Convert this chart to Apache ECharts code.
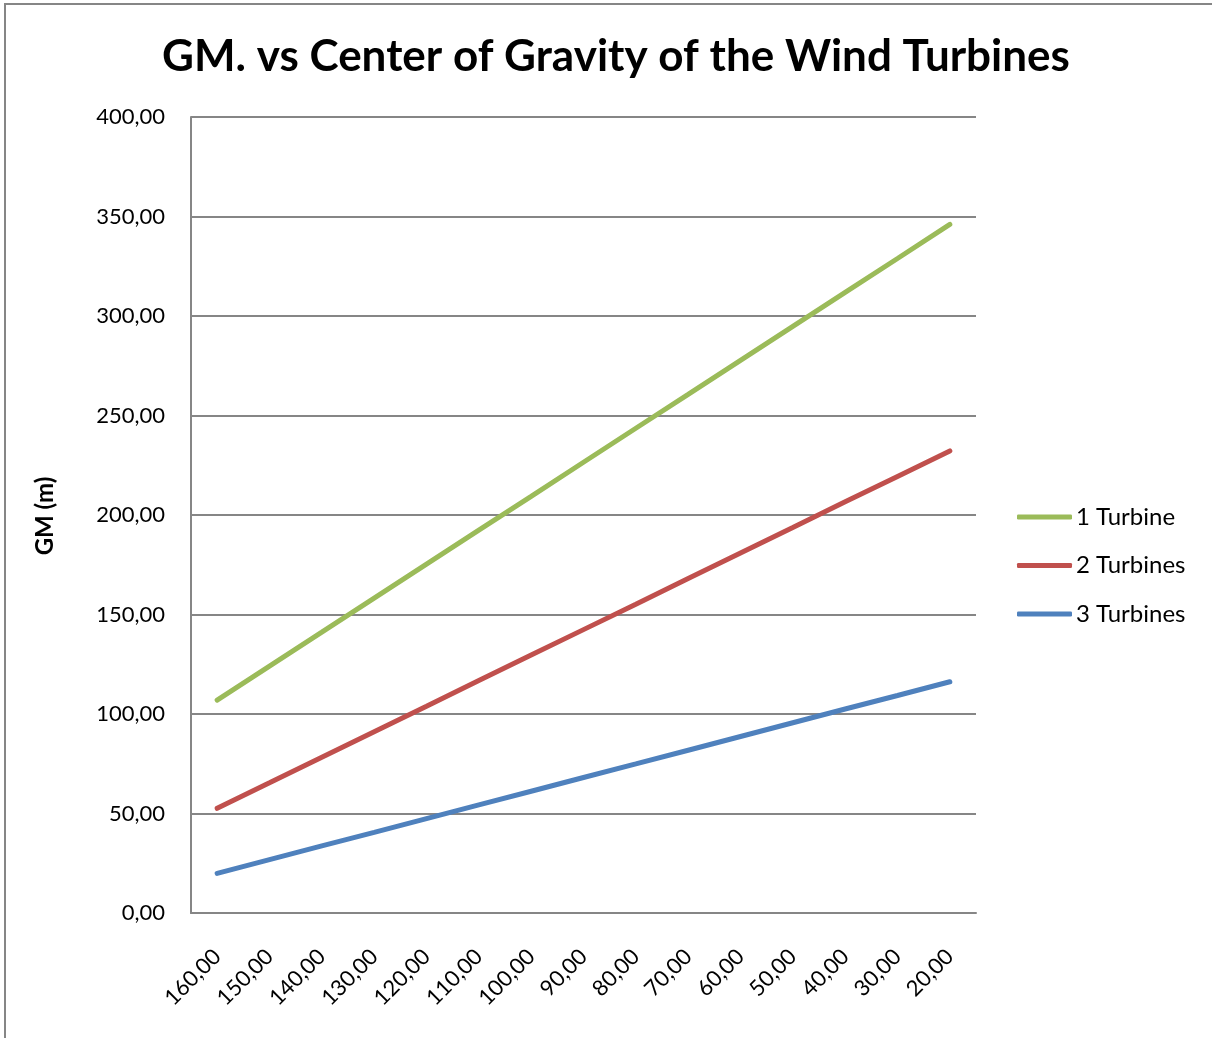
<!DOCTYPE html>
<html>
<head>
<meta charset="utf-8">
<script src="https://cdn.jsdelivr.net/npm/echarts@6/dist/echarts.min.js"></script>
<style>
  html, body { margin: 0; padding: 0; background: #fff; }
  #chart { width: 1212px; height: 1038px; }
</style>
</head>
<body>
<div id="chart"></div>
<script>
// center of gravity (m)
const categories = ['160,00', '150,00', '140,00', '130,00', '120,00', '110,00', '100,00',
  '90,00', '80,00', '70,00', '60,00', '50,00', '40,00', '30,00', '20,00']

// GM values
const oneTurbine = [107.0, 124.1, 141.1, 158.2, 175.3, 192.4, 209.4, 226.5, 243.6, 260.6, 277.7, 294.8, 311.9, 328.9, 346.0]
const twoTurbines = [52.6, 65.4, 78.3, 91.1, 103.9, 116.8, 129.6, 142.4, 155.2, 168.1, 180.9, 193.7, 206.6, 219.4, 232.2]
const threeTurbines = [19.9, 26.8, 33.7, 40.5, 47.4, 54.3, 61.2, 68.1, 74.9, 81.8, 88.7, 95.6, 102.5, 109.3, 116.2]

const seriesNames = ['1 Turbine', '2 Turbines', '3 Turbines']
const colorList = ['#9BBB59', '#C0504D', '#4F81BD']

const font = 'Lato, "Open Sans", sans-serif'
const gray = '#868686'

const chartBox = echarts.init(document.getElementById('chart'))

const makeLine = (name, data, i) => ({
  name: name,
  type: 'line',
  data: data,
  showSymbol: false,
  symbol: 'none',
  lineStyle: { width: 5, color: colorList[i], cap: 'round' },
  itemStyle: { color: colorList[i] }
})

const option = {
  backgroundColor: '#ffffff',
  animation: false,
  textStyle: { fontFamily: font },
  graphic: [
    {
      type: 'rect',
      shape: { x: 5, y: 4, width: 1230, height: 1060 },
      style: { fill: 'none', stroke: gray, lineWidth: 2 },
      silent: true
    },
    // y axis title, drawn by hand so its size holds
    {
      type: 'text',
      x: 45,
      y: 516,
      rotation: Math.PI / 2,
      style: {
        text: 'GM (m)',
        font: 'bold 24px Lato, "Open Sans", sans-serif',
        fill: '#000',
        align: 'center',
        verticalAlign: 'middle'
      },
      silent: true
    }
  ],
  title: {
    text: 'GM. vs Center of Gravity of the Wind Turbines',
    left: 611,
    textAlign: 'center',
    top: 30,
    textStyle: {
      fontFamily: font,
      fontSize: 44,
      fontWeight: 'bold',
      color: '#000'
    }
  },
  grid: {
    left: 191,
    right: 236,
    top: 117,
    bottom: 125
  },
  legend: {
    orient: 'vertical',
    left: 1012,
    top: 500,
    itemWidth: 55,
    itemHeight: 5,
    itemGap: 24.5,
    icon: 'roundRect',
    data: seriesNames,
    textStyle: {
      fontFamily: font,
      fontSize: 24,
      color: '#000',
      lineHeight: 24,
      padding: [0, 0, 0, -1]
    }
  },
  xAxis: {
    type: 'category',
    data: categories,
    boundaryGap: true,
    axisLine: { lineStyle: { color: gray, width: 2 } },
    axisTick: { show: false },
    axisLabel: {
      rotate: 45,
      margin: 40,
      interval: 0,
      fontFamily: font,
      fontSize: 22,
      color: '#000'
    }
  },
  yAxis: {
    type: 'value',
    min: 0,
    max: 400,
    interval: 50,
    axisLine: { show: true, lineStyle: { color: gray, width: 2 } },
    axisTick: { show: false },
    splitLine: { lineStyle: { color: gray, width: 2 } },
    axisLabel: {
      margin: 26,
      fontFamily: font,
      fontSize: 22,
      color: '#000',
      formatter: function (v) {
        return v.toFixed(2).replace('.', ',')
      }
    }
  },
  series: [
    makeLine(seriesNames[0], oneTurbine, 0),
    makeLine(seriesNames[1], twoTurbines, 1),
    makeLine(seriesNames[2], threeTurbines, 2)
  ]
}

chartBox.setOption(option, true)
</script>
</body>
</html>
